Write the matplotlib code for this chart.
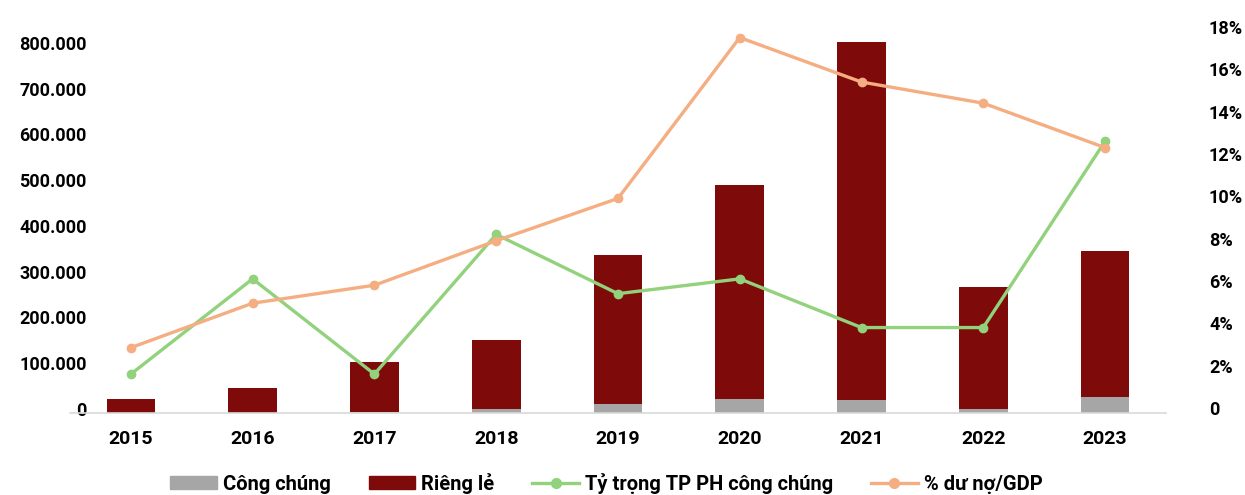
import matplotlib
matplotlib.use('Agg')
import matplotlib.pyplot as plt
import matplotlib.transforms as mtransforms
import numpy as np
from matplotlib.lines import Line2D
from matplotlib.patches import Patch
from matplotlib.ticker import FuncFormatter, MultipleLocator

plt.rcParams['font.family'] = ['Roboto', 'DejaVu Sans']
plt.rcParams['font.weight'] = 'bold'

years = ['2015', '2016', '2017', '2018', '2019', '2020', '2021', '2022', '2023']
# issuance volume (ty dong)
cong_chung = [1000, 1000, 3000, 9000, 20000, 31000, 28000, 9000, 35000]
rieng_le = [30000, 54000, 108000, 151000, 325000, 467000, 783000, 266000, 319000]
# percentages
ty_trong = [1.6, 6.1, 1.6, 8.2, 5.4, 6.1, 3.8, 3.8, 12.6]
du_no_gdp = [2.85, 4.95, 5.8, 7.9, 9.9, 17.5, 15.4, 14.4, 12.3]

c_gray = '#A6A6A6'
c_red = '#7E0A0A'
c_green = '#92D27C'
c_orange = '#F4AE82'

fig = plt.figure(figsize=(12.45, 4.95), dpi=100)
ax = fig.add_axes([0.0562, 0.1657, 0.8803, 0.7939])
ax2 = ax.twinx()

x = np.arange(len(years))
ax.bar(x, cong_chung, width=0.4, color=c_gray, zorder=2)
ax.bar(x, rieng_le, width=0.4, bottom=cong_chung, color=c_red, zorder=2)

ax2.plot(x, ty_trong, color=c_green, lw=2.4, marker='o', ms=6, zorder=3)
ax2.plot(x, du_no_gdp, color=c_orange, lw=2.4, marker='o', ms=6, zorder=4)

ax.set_xlim(-0.5, 8.5)
ax.set_ylim(0, 859000)
ax2.set_ylim(-0.236, 18.33)

ax.yaxis.set_major_locator(MultipleLocator(100000))
ax2.yaxis.set_major_locator(MultipleLocator(2))
ax.yaxis.set_major_formatter(FuncFormatter(lambda v, p: '{:,.0f}'.format(v).replace(',', '.')))
ax2.yaxis.set_major_formatter(FuncFormatter(lambda v, p: '0' if v == 0 else '%d%%' % v))

ax.set_xticks(x)
ax.set_xticklabels(years)

for a in (ax, ax2):
    for s in a.spines.values():
        s.set_visible(False)
ax.spines['bottom'].set_visible(True)
ax.spines['bottom'].set_color('#D9D9D9')
ax.spines['bottom'].set_linewidth(1.2)

ax.tick_params(axis='x', length=0, pad=12, labelsize=14)
ax.tick_params(axis='y', length=0, pad=-12, labelsize=13)
ax2.tick_params(axis='y', length=0, pad=31, labelsize=13)
for lbl in ax2.get_yticklabels():
    lbl.set_horizontalalignment('left')

# left labels sit a few pixels above their gridline value
lift = mtransforms.ScaledTranslation(0, 0.04, fig.dpi_scale_trans)
for lbl in ax.get_yticklabels():
    lbl.set_transform(lbl.get_transform() + lift)

handles = [
    Patch(color=c_gray),
    Patch(color=c_red),
    Line2D([], [], color=c_green, lw=2.4, marker='o', ms=7),
    Line2D([], [], color=c_orange, lw=2.4, marker='o', ms=7),
]
labels = ['Công chúng', 'Riêng lẻ', 'Tỷ trọng TP PH công chúng', '% dư nợ/GDP']
fig.legend(handles, labels, loc='center', bbox_to_anchor=(0.487, 0.024), ncol=4,
           frameon=False, fontsize=14.5, handlelength=2.3, handleheight=0.55,
           handletextpad=0.3, columnspacing=1.9, borderpad=0)

fig.savefig('out.png', dpi=100)
